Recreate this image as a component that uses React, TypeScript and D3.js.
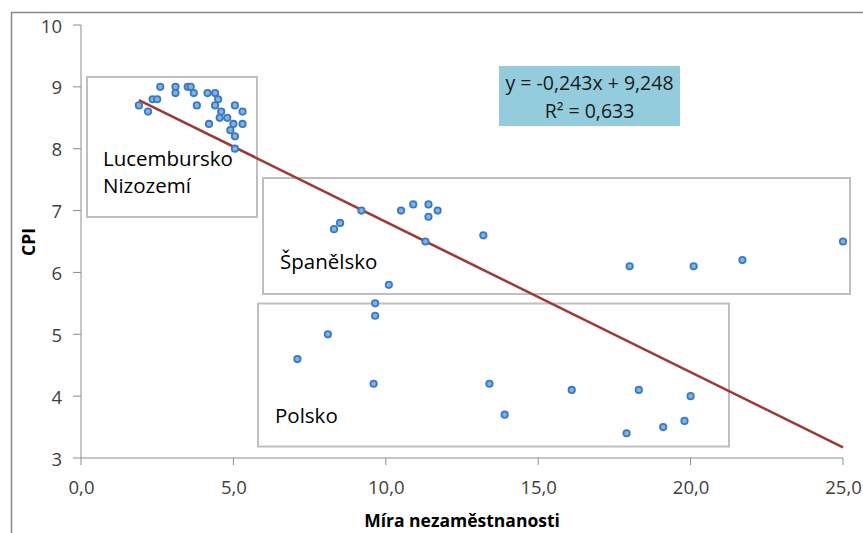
import React from "react";
import * as d3 from "d3";

const unemployment = [
  1.9, 2.2, 2.35, 2.5, 2.6, 3.1, 3.1, 3.5, 3.6, 3.7, 3.8, 4.15, 4.4, 4.5, 4.4, 4.6, 4.55, 4.8, 5.05, 5.3, 5.3, 5.0, 4.2, 4.9, 5.05, 5.05,
  8.3, 8.5, 9.2, 10.5, 10.9, 11.4, 11.7, 11.4, 11.3, 13.2, 10.1, 18.0, 20.1, 21.7, 25.0,
  9.65, 9.65, 8.1, 7.1, 9.6, 13.4, 13.9, 16.1, 18.3, 20.0, 19.8, 19.1, 17.9,
];
const cpi = [
  8.7, 8.6, 8.8, 8.8, 9.0, 9.0, 8.9, 9.0, 9.0, 8.9, 8.7, 8.9, 8.9, 8.8, 8.7, 8.6, 8.5, 8.5, 8.7, 8.6, 8.4, 8.4, 8.4, 8.3, 8.2, 8.0,
  6.7, 6.8, 7.0, 7.0, 7.1, 7.1, 7.0, 6.9, 6.5, 6.6, 5.8, 6.1, 6.1, 6.2, 6.5,
  5.5, 5.3, 5.0, 4.6, 4.2, 4.2, 3.7, 4.1, 4.1, 4.0, 3.6, 3.5, 3.4,
];
const xTicks = [0, 5, 10, 15, 20, 25];
const yTicks = [3, 4, 5, 6, 7, 8, 9, 10];
const trendSlope = -0.243;
const trendIntercept = 9.248;
const equationLines = ["y = -0,243x + 9,248", "R² = 0,633"];
const groupLabels = [["Lucembursko", "Nizozemí"], ["Španělsko"], ["Polsko"]];

const FONT = "'Open Sans', sans-serif";

export default function App() {
  const W = 863, H = 533;
  const x = d3.scaleLinear().domain([0, 25]).range([81, 843]);
  const y = d3.scaleLinear().domain([3, 10]).range([458, 25]);
  const fmt = (v: number) => v.toFixed(1).replace(".", ",");
  const xMin = d3.min(unemployment) as number;
  const xMax = 25;
  const line = d3.line<number>().x((d) => x(d)).y((d) => y(trendSlope * d + trendIntercept));
  const axisColor = "#8c8c8c";
  const boxColor = "#bfbfbf";
  const tickColor = "#404040";

  return (
    <svg width={W} height={H} style={{ position: "absolute", left: 0, top: 0, background: "#fff" }} fontFamily={FONT}>
      <rect x={0} y={0} width={W} height={H} fill="#fff" />
      {/* outer frame */}
      <path d={`M11.5,${H + 2} V12.5 H${W + 2}`} fill="none" stroke="#8a8a8a" strokeWidth={1.5} />

      {/* annotation boxes */}
      <rect x={87} y={77} width={170} height={140} fill="#fff" stroke={boxColor} strokeWidth={2} />
      <rect x={263} y={178} width={587} height={116} fill="#fff" stroke={boxColor} strokeWidth={2} />
      <rect x={258} y={303.5} width={471} height={143} fill="#fff" stroke={boxColor} strokeWidth={2} />

      {/* axes */}
      <line x1={81} x2={81} y1={y(10)} y2={y(3)} stroke={axisColor} strokeWidth={1} />
      <line x1={81} x2={x(25)} y1={y(3)} y2={y(3)} stroke={axisColor} strokeWidth={1} />
      {yTicks.map((t) => (
        <g key={"y" + t}>
          <line x1={73} x2={81} y1={y(t)} y2={y(t)} stroke={axisColor} />
          <text x={62} y={y(t) + 7.5} textAnchor="end" fontSize={18.5} fill={tickColor}>{t}</text>
        </g>
      ))}
      {xTicks.map((t) => (
        <g key={"x" + t}>
          <line x1={x(t)} x2={x(t)} y1={458} y2={465} stroke={axisColor} />
          <text x={x(t) + 0.5} y={494} textAnchor="middle" fontSize={18.5} fill={tickColor}>{fmt(t)}</text>
        </g>
      ))}
      <text x={462} y={527} textAnchor="middle" fontSize={17.5} fontWeight="bold" fill="#000">Míra nezaměstnanosti</text>
      <text transform={`translate(35,242) rotate(-90)`} textAnchor="middle" fontSize={17.5} fontWeight="bold" fill="#000">CPI</text>

      {/* group labels */}
      <text x={103} y={166} fontSize={20.5} fill="#000">{groupLabels[0][0]}</text>
      <text x={103} y={193} fontSize={20.5} fill="#000">{groupLabels[0][1]}</text>
      <text x={280} y={269} fontSize={20.5} fill="#000">{groupLabels[1][0]}</text>
      <text x={275} y={423} fontSize={20.5} fill="#000">{groupLabels[2][0]}</text>

      {/* trend line */}
      <path d={line([xMin, xMax]) as string} fill="none" stroke="#9c3a35" strokeWidth={2.6} />

      {/* points */}
      {unemployment.map((u, i) => (
        <circle key={i} cx={x(u)} cy={y(cpi[i])} r={3.2} fill="#7ab6e0" stroke="#3f77c0" strokeWidth={1.8} />
      ))}

      {/* equation box */}
      <rect x={499} y={66} width={181} height={60} fill="#93cddd" />
      <text x={589.5} y={90} textAnchor="middle" fontSize={19.5} fill="#1a1a1a">{equationLines[0]}</text>
      <text x={589.5} y={117.5} textAnchor="middle" fontSize={19.5} fill="#1a1a1a">{equationLines[1]}</text>
    </svg>
  );
}
